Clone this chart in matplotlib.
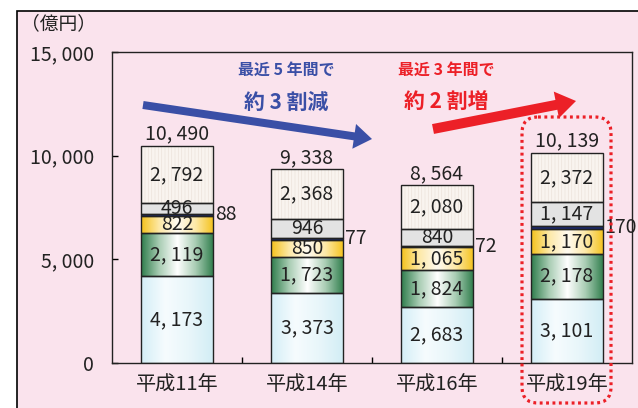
import numpy as np
import matplotlib
matplotlib.use('Agg')
import matplotlib.pyplot as plt
from matplotlib.patches import Rectangle, FancyArrow, FancyBboxPatch
from matplotlib.colors import LinearSegmentedColormap

plt.rcParams['font.family'] = ['Noto Sans CJK JP', 'DejaVu Sans']
plt.rcParams['hatch.linewidth'] = 0.5

categories = ['平成11年', '平成14年', '平成16年', '平成19年']
base = [4173, 3373, 2683, 3101]      # light cyan
green = [2119, 1723, 1824, 2178]
yellow = [822, 850, 1065, 1170]
navy = [88, 77, 72, 170]
gray = [496, 946, 840, 1147]
top = [2792, 2368, 2080, 2372]
totals = [10490, 9338, 8564, 10139]

yticks = [0, 5000, 10000, 15000]
ytick_labels = ['0', '5, 000', '10, 000', '15, 000']

pink = '#fae3ed'
txt = '#222222'


def fmt(v):
    return f'{v:,}'.replace(',', ', ')


def gradient(ax, rect, colors):
    cmap = LinearSegmentedColormap.from_list('g', colors)
    arr = cmap(np.linspace(0, 1, 200))[None, :, :]
    x, y = rect.get_x(), rect.get_y()
    im = ax.imshow(arr, extent=(x, x + rect.get_width(), y, y + rect.get_height()),
                   aspect='auto', zorder=2.1, interpolation='bilinear')
    im.set_clip_path(rect)


fig = plt.figure(figsize=(6.38, 4.08), dpi=100)

# background panel with border
bg = fig.add_axes([0, 0, 1, 1], zorder=0)
bg.set_xlim(0, 638)
bg.set_ylim(408, 0)
bg.axis('off')
bg.add_patch(Rectangle((17, 11), 700, 500, facecolor=pink, edgecolor='black', lw=1.2))

ax = fig.add_axes([112 / 638, 45 / 408, 520 / 638, 311 / 408], zorder=1)
ax.patch.set_alpha(0)

x = np.arange(len(categories))
w = 0.555
series = [base, green, yellow, navy, gray, top]
bottoms = np.zeros(len(categories))
rects_all = []
for vals in series:
    rects = ax.bar(x, vals, w, bottom=bottoms, color='none', edgecolor='none', zorder=2)
    rects_all.append(rects)
    bottoms = bottoms + np.array(vals)

for r in rects_all[0]:
    gradient(ax, r, ['#d4eef6', '#f6fcfe', '#e8f6fa', '#d2edf5'])
for r in rects_all[1]:
    gradient(ax, r, ['#2f7d4c', '#a9cdb4', '#ffffff', '#a9cdb4', '#2f7d4c'])
for r in rects_all[2]:
    gradient(ax, r, ['#f4c21c', '#fde9a8', '#fffaf0', '#fde9a8', '#f4c21c'])
for r in rects_all[3]:
    r.set_facecolor('#1d2b7e')
for r in rects_all[4]:
    r.set_facecolor('#e3e3e3')

# top dotted / striped segment
ax.bar(x, top, w, bottom=bottoms - np.array(top), color='#f9f4ef',
       edgecolor='#ede3db', hatch='|||||', lw=0, zorder=2.2)

# outlines
b = np.zeros(len(categories))
for vals in series:
    ax.bar(x, vals, w, bottom=b, color='none', edgecolor='#222222', lw=1.0, zorder=3)
    b = b + np.array(vals)

# segment labels
b = np.zeros(len(categories))
for k, vals in enumerate(series):
    for i, v in enumerate(vals):
        cy = b[i] + v / 2
        if k == 3:
            ax.text(x[i] + w / 2 + 0.012, cy, fmt(v), ha='left', va='center',
                    fontsize=14, color=txt, zorder=5)
        else:
            ax.text(x[i], cy, fmt(v), ha='center', va='center',
                    fontsize=14, color=txt, zorder=5)
    b = b + np.array(vals)

for i, t in enumerate(totals):
    ax.text(x[i], b[i] + 60, fmt(t), ha='center', va='bottom',
            fontsize=14, color=txt, zorder=5)

ax.set_xlim(-0.5, 3.5)
ax.set_ylim(0, 15000)
ax.set_yticks(yticks)
ax.set_yticklabels(ytick_labels, fontsize=14, color=txt)
ax.tick_params(axis='y', direction='in', length=4.5, width=1, pad=13)
ax.set_xticks(x)
ax.set_xticklabels(categories, fontsize=14.5, color=txt)
ax.tick_params(axis='x', length=0, pad=8)
ax.set_xticks([0.5, 1.5, 2.5], minor=True)
ax.tick_params(axis='x', which='minor', direction='in', length=4.5, width=1)
for s in ax.spines.values():
    s.set_linewidth(1.0)
    s.set_color('#222222')

# overlay: unit label, arrows, annotations, highlight box
fg = fig.add_axes([0, 0, 1, 1], zorder=3)
fg.set_xlim(0, 638)
fg.set_ylim(408, 0)
fg.axis('off')
fg.patch.set_alpha(0)

fg.text(58, 24, '（億円）', ha='center', va='center', fontsize=13.5, color=txt)

blue = '#3a4fa6'
red = '#ec2027'
fg.add_patch(FancyArrow(143, 105, 229, 34, width=8, head_width=25, head_length=18,
                        length_includes_head=True, color=blue, lw=0))
fg.add_patch(FancyArrow(433, 129, 143, -28, width=10, head_width=27, head_length=20,
                        length_includes_head=True, color=red, lw=0))

fg.text(286, 70, '最近 5 年間で', ha='center', va='center', fontsize=11.5,
        fontweight='bold', color=blue)
fg.text(286, 102, '約 3 割減', ha='center', va='center', fontsize=15,
        fontweight='bold', color=blue)
fg.text(446, 70, '最近 3 年間で', ha='center', va='center', fontsize=11.5,
        fontweight='bold', color=red)
fg.text(446, 102, '約 2 割増', ha='center', va='center', fontsize=15,
        fontweight='bold', color=red)

fg.add_patch(FancyBboxPatch((522, 117), 89, 286,
                            boxstyle='round,pad=0,rounding_size=16',
                            fill=False, edgecolor=red, lw=2.3,
                            linestyle=(0, (0.9, 1.1))))

fig.savefig('out.png', dpi=100, facecolor='white')
